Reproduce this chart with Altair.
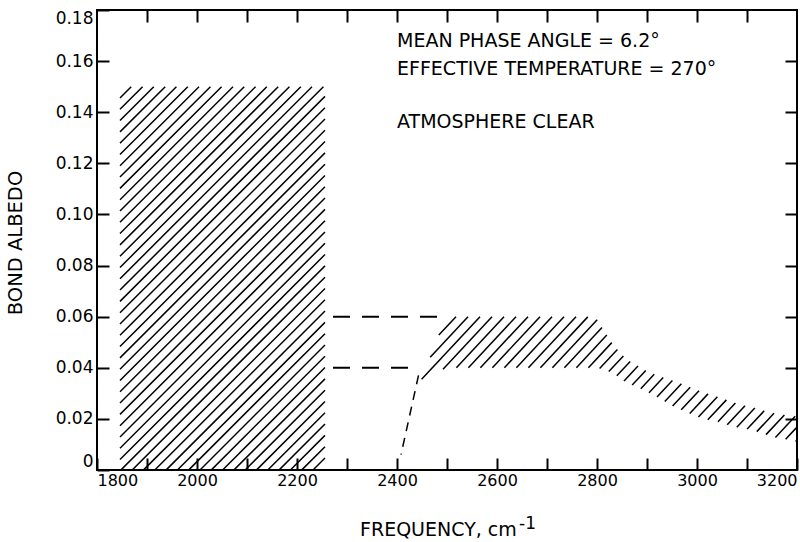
import numpy as np
import pandas as pd
import altair as alt

# ---------------- data ----------------
x_domain = [1800, 3200]
y_domain = [0, 0.18]
x_ticks = list(range(1800, 3201, 100))
y_ticks = [0, 0.02, 0.04, 0.06, 0.08, 0.10, 0.12, 0.14, 0.16, 0.18]

# hatched block (1800-2260 cm-1)
block_x = [1846, 2256]
block_y = [0.0, 0.15]

# hatched band (2440-3200 cm-1)
band_upper_x = [2446, 2498, 2780, 2800, 2816, 2826, 2846, 2862, 2880, 2906, 2936, 2966, 2992, 3020, 3052, 3080, 3112, 3146, 3180, 3200]
band_upper_y = [0.034, 0.060, 0.060, 0.059, 0.054, 0.0507, 0.046, 0.043, 0.041, 0.038, 0.036, 0.034, 0.032, 0.030, 0.028, 0.026, 0.0245, 0.0226, 0.0214, 0.021]
band_lower_x = [2446, 2460, 2480, 2510, 2800, 2830, 2860, 2890, 2920, 2950, 2980, 3010, 3040, 3070, 3110, 3150, 3200]
band_lower_y = [0.034, 0.037, 0.039, 0.040, 0.040, 0.038, 0.034, 0.0315, 0.0285, 0.025, 0.0226, 0.020, 0.019, 0.017, 0.0156, 0.013, 0.011]

# dashed guide lines
dash_y = [0.06, 0.04]
dash_x0 = [2272, 2272]
dash_x1 = [2500, 2442]
slant_x = [2443, 2408]
slant_y = [0.037, 0.006]

notes = ["MEAN PHASE ANGLE = 6.2°", "EFFECTIVE TEMPERATURE = 270°", "ATMOSPHERE CLEAR"]
notes_x = [2400, 2400, 2400]
notes_y = [0.1655, 0.1545, 0.134]

# ---------------- layout ----------------
W, H = 700, 460
FONT = "DejaVu Sans"


def to_px(x):
    return (np.asarray(x, float) - x_domain[0]) * W / (x_domain[1] - x_domain[0])


def to_py(y):
    return np.asarray(y, float) * H / (y_domain[1] - y_domain[0])


def hatch(lx, ly, ux, uy, spacing=11.5, angle=45.0):
    """Diagonal hatch segments filling the region between two boundary curves."""
    lpx, lpy = to_px(lx), to_py(ly)
    upx, upy = to_px(ux), to_py(uy)
    lo_x, hi_x = max(lpx.min(), upx.min()), min(lpx.max(), upx.max())
    grid = np.arange(lo_x, hi_x + 0.01, 0.2)
    low = np.interp(grid, lpx, lpy)
    up = np.interp(grid, upx, upy)
    t = np.tan(np.radians(angle))
    rows = []
    c = lo_x - up.max() / t
    while c < hi_x:
        line = t * (grid - c)
        inside = (line >= low - 0.01) & (line <= up + 0.01)
        idx = np.nonzero(inside)[0]
        if len(idx) > 1:
            i0, i1 = idx[0], idx[-1]
            rows.append({
                "x": x_domain[0] + grid[i0] * (x_domain[1] - x_domain[0]) / W,
                "y": line[i0] * (y_domain[1] - y_domain[0]) / H,
                "x2": x_domain[0] + grid[i1] * (x_domain[1] - x_domain[0]) / W,
                "y2": line[i1] * (y_domain[1] - y_domain[0]) / H,
            })
        c += spacing
    return pd.DataFrame(rows)


block_df = hatch(block_x, [block_y[0]] * 2, block_x, [block_y[1]] * 2, spacing=11.3, angle=45)
band_df = hatch(band_lower_x, band_lower_y, band_upper_x, band_upper_y, spacing=12, angle=47)

xs = alt.Scale(domain=x_domain, nice=False, zero=False)
ys = alt.Scale(domain=y_domain, nice=False)

common_axis = dict(grid=False, domain=False, tickSize=12, offset=-12, tickWidth=2,
                   tickColor="black", labelColor="black", labelFont=FONT, title=None)

bottom_axis = alt.Axis(orient="bottom", values=x_ticks, format="d",
                       labelExpr="datum.value % 200 == 0 ? datum.label : ''",
                       labelFlush=True, labelPadding=2, labelFontSize=16, **common_axis)
left_axis = alt.Axis(orient="left", values=y_ticks,
                     labelExpr="datum.value == 0 ? '0' : format(datum.value, '.2f')",
                     labelFlush=True, labelPadding=4, labelFontSize=17, **common_axis)
top_axis = alt.Axis(orient="top", values=x_ticks[1:-1], labels=False, **common_axis)
right_axis = alt.Axis(orient="right", values=y_ticks[1:-1], labels=False, **common_axis)

block = alt.Chart(block_df).mark_rule(color="black", strokeWidth=1.5).encode(
    x=alt.X("x:Q", scale=xs, axis=bottom_axis),
    y=alt.Y("y:Q", scale=ys, axis=left_axis),
    x2="x2:Q", y2="y2:Q")

band = alt.Chart(band_df).mark_rule(color="black", strokeWidth=1.5).encode(
    x=alt.X("x:Q", scale=xs, axis=top_axis),
    y=alt.Y("y:Q", scale=ys, axis=right_axis),
    x2="x2:Q", y2="y2:Q")

dash_df = pd.DataFrame({"y": dash_y, "x": dash_x0, "x2": dash_x1})
dashes = alt.Chart(dash_df).mark_rule(color="black", strokeWidth=2, strokeDash=[17, 12]).encode(
    x=alt.X("x:Q", scale=xs, axis=None), x2="x2:Q",
    y=alt.Y("y:Q", scale=ys, axis=None))

slant_df = pd.DataFrame({"x": [slant_x[0]], "y": [slant_y[0]], "x2": [slant_x[1]], "y2": [slant_y[1]]})
slant = alt.Chart(slant_df).mark_rule(color="black", strokeWidth=1.5, strokeDash=[9, 7]).encode(
    x=alt.X("x:Q", scale=xs, axis=None), x2="x2:Q",
    y=alt.Y("y:Q", scale=ys, axis=None), y2="y2:Q")

notes_df = pd.DataFrame({"t": notes, "x": notes_x, "y": notes_y})
note_text = alt.Chart(notes_df).mark_text(align="left", baseline="alphabetic", font=FONT,
                                          fontSize=19, color="black").encode(
    x=alt.X("x:Q", scale=xs, axis=None), y=alt.Y("y:Q", scale=ys, axis=None), text="t:N")

titles_df = pd.DataFrame({"t": ["FREQUENCY, cm"]})
xtitle = alt.Chart(titles_df).mark_text(align="left", baseline="alphabetic", font=FONT,
                                        fontSize=19, color="black").encode(
    x=alt.value(263), y=alt.value(526), text="t:N")
sup_df = pd.DataFrame({"t": ["-1"]})
xsup = alt.Chart(sup_df).mark_text(align="left", baseline="alphabetic", font=FONT,
                                   fontSize=17, color="black").encode(
    x=alt.value(422), y=alt.value(519), text="t:N")
ytitle_df = pd.DataFrame({"t": ["BOND ALBEDO"]})
ytitle = alt.Chart(ytitle_df).mark_text(align="center", baseline="middle", font=FONT,
                                        fontSize=19.5, angle=270, color="black").encode(
    x=alt.value(-81), y=alt.value(233), text="t:N")

chart = alt.layer(block, band, dashes, slant, note_text, xtitle, xsup, ytitle).resolve_axis(
    x="independent", y="independent"
).properties(
    width=W, height=H,
    autosize=alt.AutoSizeParams(type="none"),
    padding={"left": 97, "top": 10, "right": 3, "bottom": 72},
    background="white",
).configure_view(stroke="black", strokeWidth=2)

chart.save("out.html", embed_options={"renderer": "svg", "actions": False})
